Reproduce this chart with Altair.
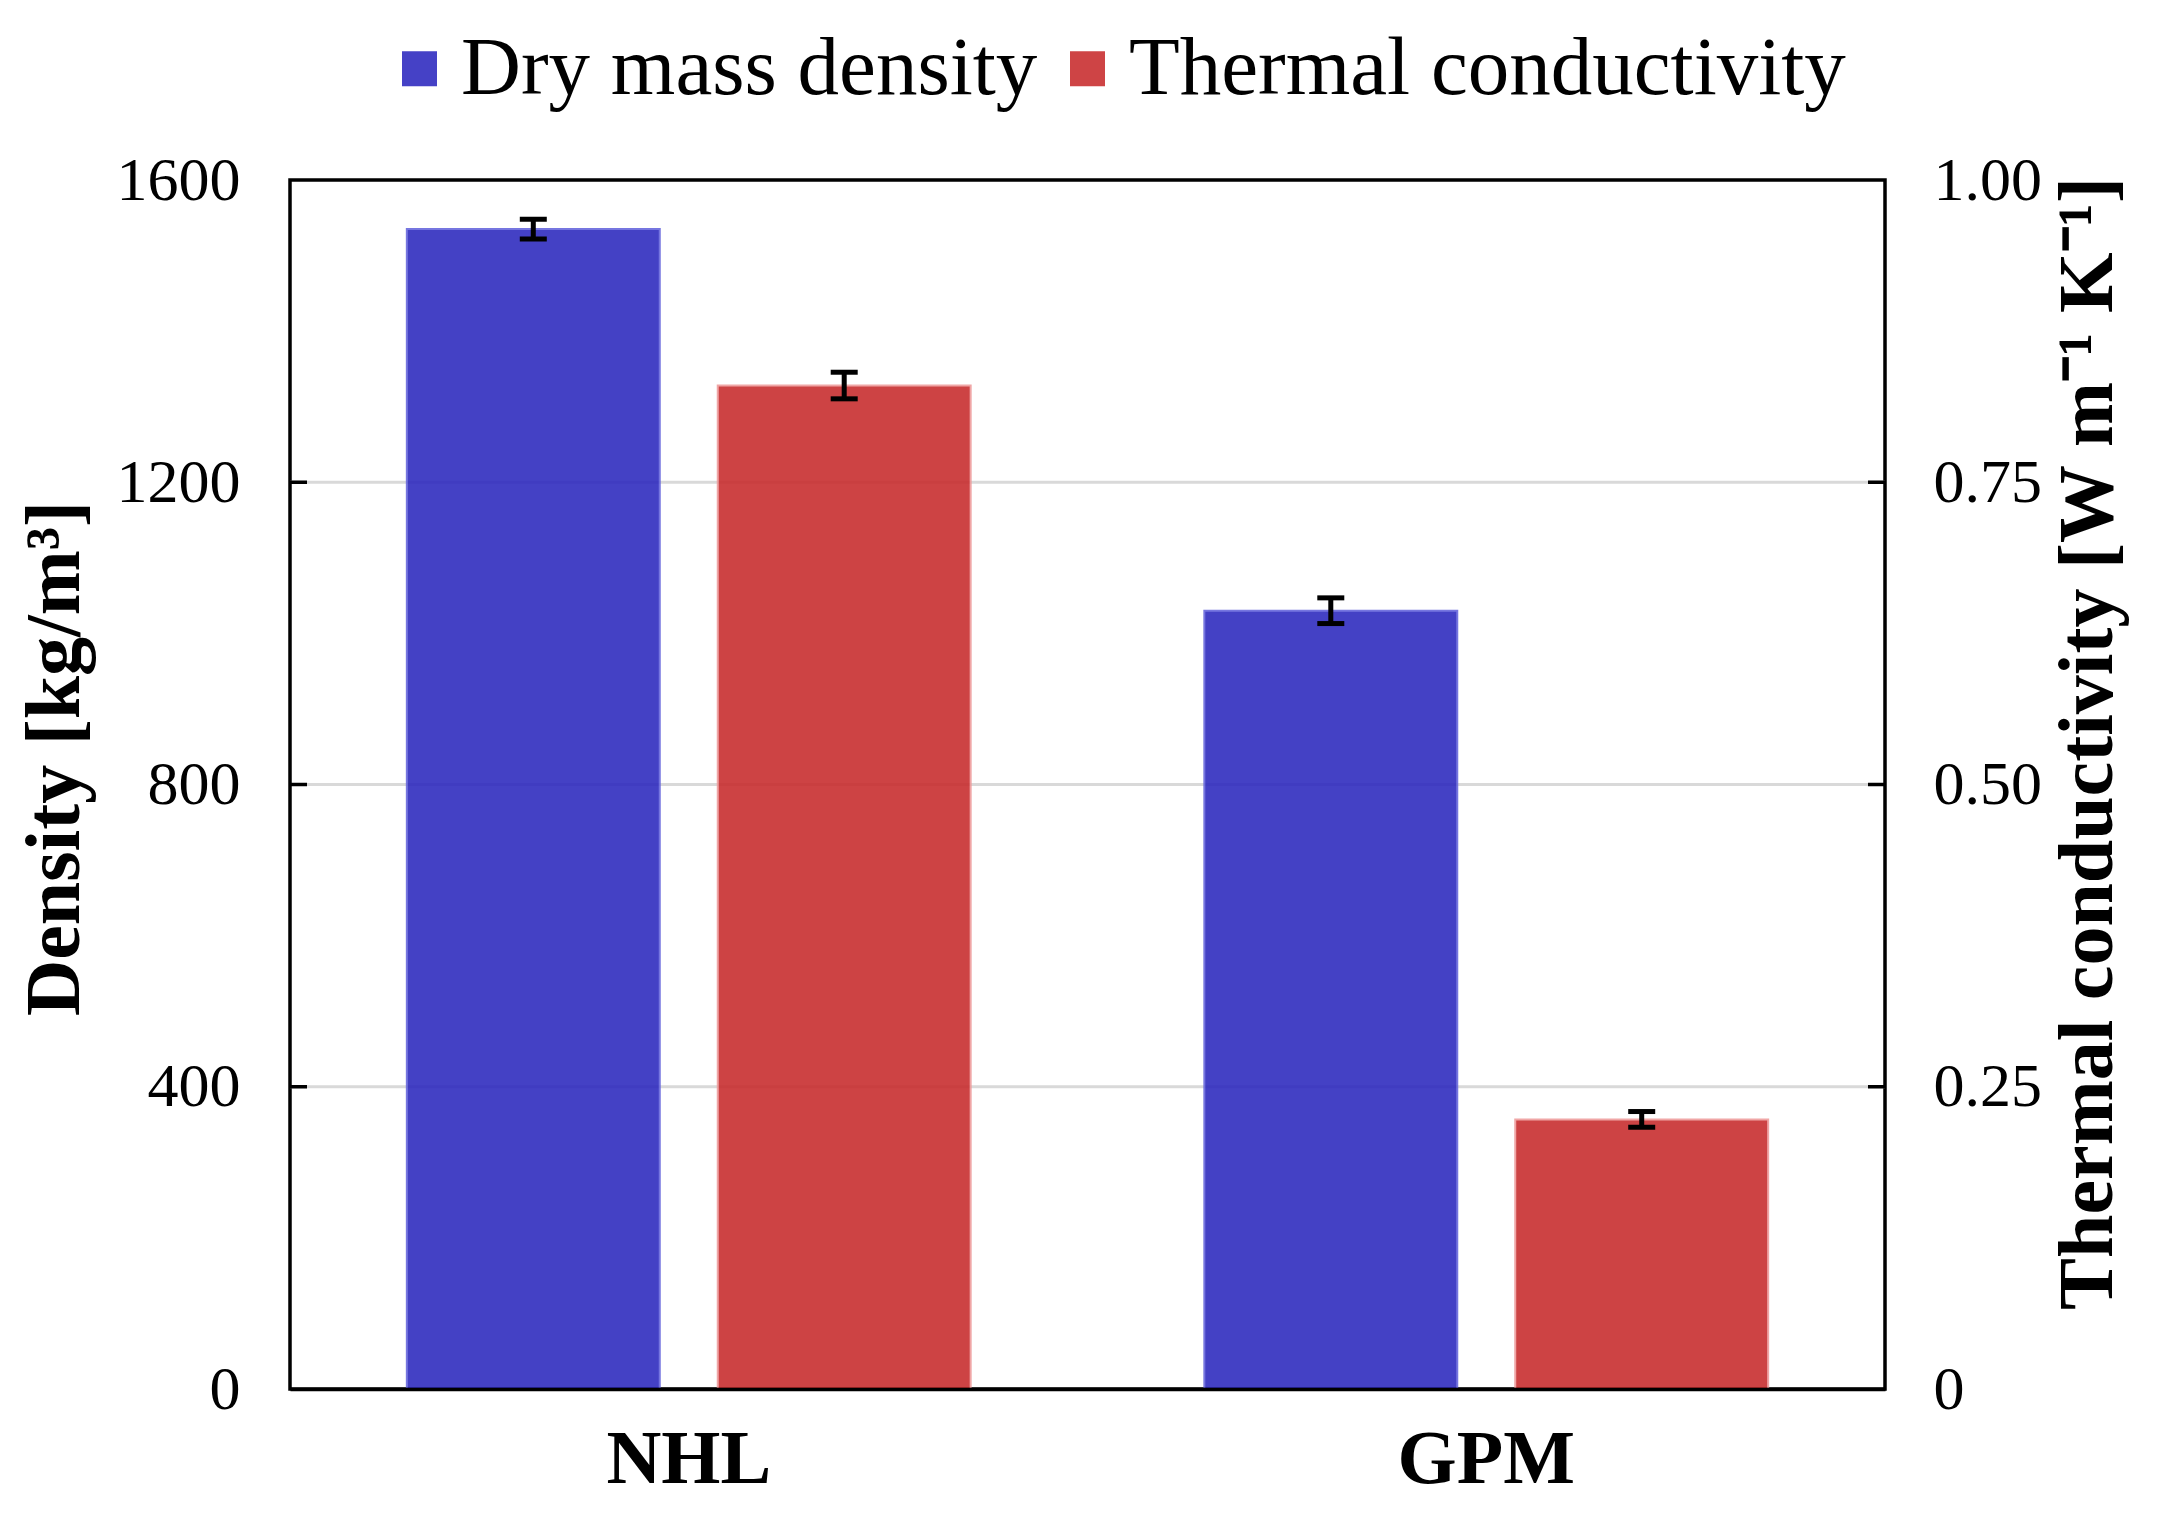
import pandas as pd
import altair as alt

# values
materials = ["NHL", "GPM"]
series = ["Dry mass density", "Thermal conductivity"]
density = [1535, 1030]
density_err = [13, 17]
conductivity = [0.830, 0.223]
conductivity_err = [0.011, 0.0065]
density_ticks = [0, 400, 800, 1200, 1600]
conductivity_ticks = [0, 0.25, 0.50, 0.75, 1.00]

W, H = 1595, 1209
FONT = "Liberation Serif"
BLUE, RED = "#2b27be", "#c72a2b"
TICK_LEN = 17

dens_df = pd.DataFrame({
    "material": materials,
    "series": series[0],
    "value": density,
    "lo": [v - e for v, e in zip(density, density_err)],
    "hi": [v + e for v, e in zip(density, density_err)],
})
cond_df = pd.DataFrame({
    "material": materials,
    "series": series[1],
    "value": conductivity,
    "lo": [v - e for v, e in zip(conductivity, conductivity_err)],
    "hi": [v + e for v, e in zip(conductivity, conductivity_err)],
})

x_enc = alt.X(
    "material:N", sort=materials, title=None,
    scale=alt.Scale(paddingInner=0.293, paddingOuter=0.1465),
    axis=alt.Axis(labelAngle=0, labelFont=FONT, labelFontSize=76, labelFontWeight="bold",
                  labelColor="black", labelPadding=33, ticks=False, domain=True,
                  domainColor="black", domainWidth=3.5, zindex=1),
)
xoff_enc = alt.XOffset("series:N", sort=series,
                       scale=alt.Scale(domain=series, paddingInner=0.1865))
color_enc = alt.Color(
    "series:N",
    scale=alt.Scale(domain=series, range=[BLUE, RED]),
    legend=alt.Legend(orient="none", legendX=88, legendY=-153, direction="horizontal",
                      title=None, symbolType="square", symbolSize=1225, symbolStrokeWidth=0,
                      symbolOpacity=0.88, labelFont=FONT, labelFontSize=83, labelColor="black",
                      labelLimit=2000, labelOffset=0, columnPadding=8),
)

left_axis = alt.Axis(
    title="Density [kg/m³]", values=density_ticks, format="d", ticks=False, domain=False,
    grid=False,
    labelFont=FONT, labelFontSize=62, labelColor="black", labelPadding=50,
    titleFont=FONT, titleFontSize=78, titleFontWeight="bold", titleColor="black",
    titlePadding=22, titleY=578,
)
right_axis = alt.Axis(
    title="Thermal conductivity [W m⁻¹ K⁻¹]", orient="right", values=conductivity_ticks,
    ticks=False, domain=False, grid=False,
    labelExpr="datum.value == 0 ? '0' : format(datum.value, '.2f')",
    labelFont=FONT, labelFontSize=62, labelColor="black", labelPadding=48,
    titleFont=FONT, titleFontSize=78, titleFontWeight="bold", titleColor="black",
    titlePadding=8, titleAngle=270, titleBaseline="top", titleY=563,
)

dens_scale = alt.Scale(domain=[0, 1600], nice=False)
cond_scale = alt.Scale(domain=[0, 1.0], nice=False)


def bar_group(df, scale, axis, stroke, tick_values, tick_x, with_grid):
    base = alt.Chart(df).encode(x=x_enc, xOffset=xoff_enc)
    inner = pd.DataFrame({"t": tick_values[1:-1]})
    layers = []
    if with_grid:
        layers.append(alt.Chart(inner).mark_rule(color="#d9d9d9", strokeWidth=3).encode(
            y=alt.Y("t:Q", scale=scale, axis=axis), x=alt.value(0), x2=alt.value(W)))
    bars = base.mark_bar(opacity=0.88, stroke=stroke, strokeWidth=2).encode(
        y=alt.Y("value:Q", scale=scale, axis=axis), color=color_enc)
    stem = base.mark_rule(color="black", strokeWidth=5).encode(
        y=alt.Y("lo:Q", scale=scale, axis=axis), y2="hi:Q")
    cap_lo = base.mark_tick(color="black", thickness=5, size=27, opacity=1).encode(
        y=alt.Y("lo:Q", scale=scale, axis=axis))
    cap_hi = base.mark_tick(color="black", thickness=5, size=27, opacity=1).encode(
        y=alt.Y("hi:Q", scale=scale, axis=axis))
    ticks = alt.Chart(inner).mark_rule(color="black", strokeWidth=3.5).encode(
        y=alt.Y("t:Q", scale=scale, axis=axis),
        x=alt.value(tick_x[0]), x2=alt.value(tick_x[1]))
    layers += [bars, stem, cap_lo, cap_hi, ticks]
    return alt.layer(*layers)


left = bar_group(dens_df, dens_scale, left_axis, "#6464dc", density_ticks,
                 (0, TICK_LEN), True)
right = bar_group(cond_df, cond_scale, right_axis, "#ee9a9a", conductivity_ticks,
                  (W - TICK_LEN, W), False)

chart = (
    alt.layer(left, right)
    .resolve_scale(y="independent")
    .properties(width=W, height=H, background="white",
                padding={"left": 8, "top": 19, "right": 10, "bottom": 10})
    .configure_view(stroke="black", strokeWidth=3.5)
)

chart.save("out.html", embed_options={"renderer": "svg", "actions": False})
